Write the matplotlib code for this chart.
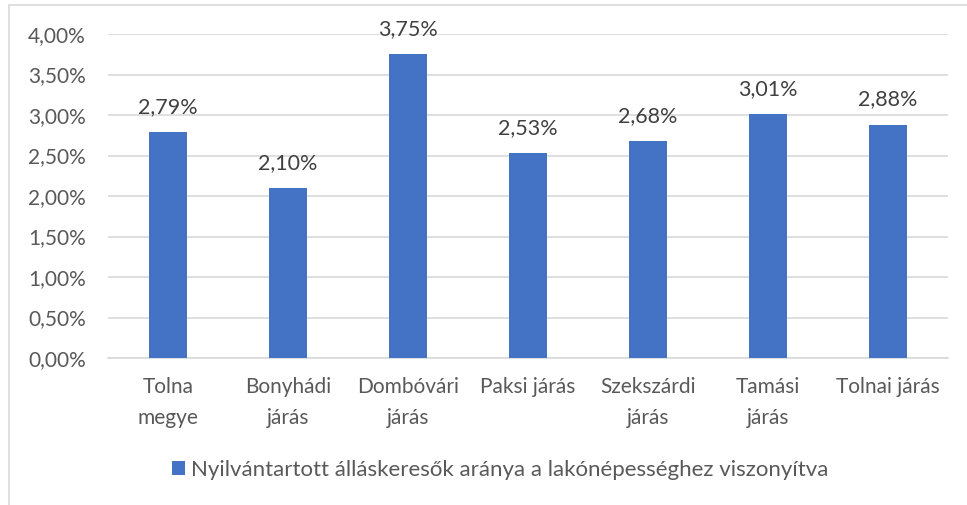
import numpy as np
import matplotlib.pyplot as plt
from matplotlib.ticker import FuncFormatter
from matplotlib.patches import Rectangle

plt.rcParams['font.family'] = ['Lato', 'DejaVu Sans']

categories = ['Tolna\nmegye', 'Bonyhádi\njárás', 'Dombóvári\njárás', 'Paksi járás',
              'Szekszárdi\njárás', 'Tamási\njárás', 'Tolnai járás']
values = [2.79, 2.10, 3.75, 2.53, 2.68, 3.01, 2.88]
series_name = 'Nyilvántartott álláskeresők aránya a lakónépességhez viszonyítva'

bar_color = '#4472C4'
text_color = '#595959'
grid_color = '#D9D9D9'

def pct(v, pos=None):
    return f'{v:.2f}%'.replace('.', ',')

fig = plt.figure(figsize=(9.67, 5.05), dpi=100)
ax = fig.add_axes([108/967, 1-358/505, 840/967, 324/505])

x = np.arange(len(categories))
bars = ax.bar(x, values, width=0.31, color=bar_color, zorder=3, label=series_name)
for xi, v in zip(x, values):
    ax.annotate(pct(v), (xi, v), xytext=(0, 11), textcoords='offset points',
                ha='center', va='bottom', fontsize=15.5, color='#404040')

ax.set_ylim(0, 4)
ax.set_xlim(-0.5, len(categories) - 0.5)
ax.set_yticks(np.arange(0, 4.01, 0.5))
ax.yaxis.set_major_formatter(FuncFormatter(pct))
ax.grid(axis='y', color=grid_color, linewidth=1.2, zorder=0)
ax.set_xticks(x)
ax.set_xticklabels(categories, fontsize=15, color=text_color, linespacing=1.65)
ax.tick_params(axis='y', labelsize=15, colors=text_color, length=0, pad=16)
ax.tick_params(axis='x', length=0, pad=14)
for s in ['top', 'right', 'left']:
    ax.spines[s].set_visible(False)
ax.spines['bottom'].set_color(grid_color)
ax.spines['bottom'].set_linewidth(1.2)

fig.legend(handles=[bars], labels=[series_name], loc='center', bbox_to_anchor=(500/967, 1-470/505),
           frameon=False, fontsize=16, labelcolor=text_color, handlelength=0.62, handleheight=0.62,
           handletextpad=0.25)

fig.patches.append(Rectangle((9/967, -0.1), 2, 1.1 - 5/505, transform=fig.transFigure,
                             fill=False, edgecolor='#D9D9D9', linewidth=1.2))

fig.savefig('out.png', dpi=100)
